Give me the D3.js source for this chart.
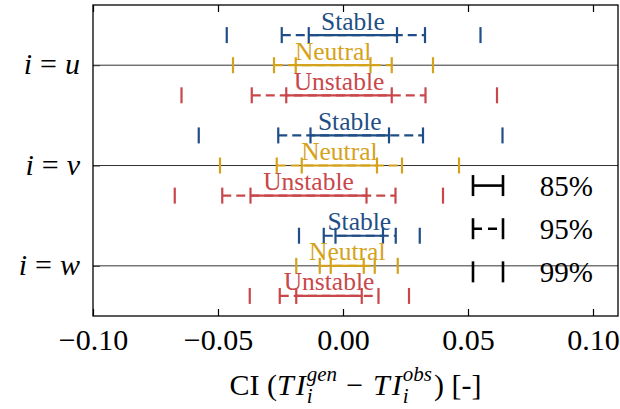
<!DOCTYPE html>
<html>
<head>
<meta charset="utf-8">
<script src="https://cdn.jsdelivr.net/npm/d3@7"></script>
<style>
  html, body { margin: 0; padding: 0; background: #fff; }
  svg { display: block; }
  text { font-family: "Liberation Serif", "Times New Roman", serif; fill: #000; }
</style>
</head>
<body>
<svg id="chart" width="620" height="409"></svg>
<script>
// ---- data ----
const components = ["u", "v", "w"];
const regimes = ["Stable", "Neutral", "Unstable"];
const regimeColors = ["#1f4e86", "#d5a21c", "#c9474a"];
// [component][regime] = [low, high]
const ci99 = [
  [[-0.0465, 0.0550], [-0.0440, 0.0360], [-0.0646, 0.0616]],
  [[-0.0577, 0.0638], [-0.0492, 0.0464], [-0.0673, 0.0400]],
  [[-0.0176, 0.0307], [-0.0187, 0.0219], [-0.0373, 0.0264]]
];
const ci95 = [
  [[-0.0245, 0.0328], [-0.0276, 0.0195], [-0.0365, 0.0330]],
  [[-0.0259, 0.0320], [-0.0265, 0.0236], [-0.0483, 0.0210]],
  [[-0.0077, 0.0211], [-0.0093, 0.0127], [-0.0253, 0.0142]]
];
const ci85 = [
  [[-0.0137, 0.0216], [-0.0189, 0.0110], [-0.0227, 0.0195]],
  [[-0.0130, 0.0184], [-0.0165, 0.0136], [-0.0370, 0.0094]],
  [[-0.0030, 0.0160], [-0.0049, 0.0083], [-0.0187, 0.0075]]
];
const xTicks = [-0.10, -0.05, 0.00, 0.05, 0.10];
const legendLabels = ["85%", "95%", "99%"];

// ---- layout ----
const svg = d3.select("#chart");
const plot = { left: 93, right: 618, top: 5, bottom: 316 };
const x = d3.scaleLinear().domain([-0.10, 0.11]).range([plot.left, plot.right]);
const y = d3.scaleLinear().domain([-0.6, 2.5]).range([plot.top, plot.bottom]);
const regimeOffset = [-0.3, 0, 0.3];
const capH = 8;
const lw = 2.2;

// category lines
svg.append("g").selectAll("line").data(components).join("line")
  .attr("x1", plot.left).attr("x2", plot.right)
  .attr("y1", (d, i) => y(i)).attr("y2", (d, i) => y(i))
  .attr("stroke", "#333").attr("stroke-width", 1);

// axes
const fmt = d3.format(".2f");
const xAxisB = d3.axisBottom(x).tickValues(xTicks).tickSize(-7).tickPadding(13).tickFormat(fmt);
const gB = svg.append("g").attr("transform", `translate(0,${plot.bottom})`).call(xAxisB);
gB.select(".domain").remove();
gB.selectAll("line").attr("stroke", "#000").attr("stroke-width", 1.2);
gB.selectAll("text").attr("font-size", 30).attr("dy", "0.71em")
  .style("font-family", '"Liberation Serif", serif');

const xAxisT = d3.axisTop(x).tickValues(xTicks).tickSize(-7).tickFormat("");
const gT = svg.append("g").attr("transform", `translate(0,${plot.top})`).call(xAxisT);
gT.select(".domain").remove();
gT.selectAll("line").attr("stroke", "#000").attr("stroke-width", 1.2);

const yAxis = d3.axisLeft(y).tickValues([0, 1, 2]).tickSize(-7).tickFormat("");
const gL = svg.append("g").attr("transform", `translate(${plot.left},0)`).call(yAxis);
gL.select(".domain").remove();
gL.selectAll("line").attr("stroke", "#333").attr("stroke-width", 1);

// y labels: i = u etc.
const yl = svg.append("g").selectAll("text").data(components).join("text")
  .attr("x", plot.left - 13).attr("y", (d, i) => y(i)).attr("dy", "0.3em")
  .attr("text-anchor", "end").attr("font-size", 30);
yl.append("tspan").attr("font-style", "italic").text("i");
yl.append("tspan").attr("dx", 8).text("=");
yl.append("tspan").attr("dx", 8).attr("font-style", "italic").text(d => d);

// ---- intervals ----
const rows = [];
components.forEach((c, ci) => regimes.forEach((r, ri) => {
  rows.push({ ci, ri, yv: ci + regimeOffset[ri], color: regimeColors[ri], label: r,
    c99: ci99[ci][ri], c95: ci95[ci][ri], c85: ci85[ci][ri] });
}));

const g = svg.append("g");
rows.forEach(d => {
  const yy = y(d.yv);
  const gr = g.append("g").attr("stroke", d.color).attr("stroke-width", lw).attr("fill", "none");
  // 95% dashed
  gr.append("line").attr("x1", x(d.c95[0])).attr("x2", x(d.c95[1]))
    .attr("y1", yy).attr("y2", yy).attr("stroke-dasharray", "9,5");
  // 85% solid
  gr.append("line").attr("x1", x(d.c85[0])).attr("x2", x(d.c85[1]))
    .attr("y1", yy).attr("y2", yy);
  // caps for all levels
  [d.c99, d.c95, d.c85].forEach(iv => iv.forEach(v => {
    gr.append("line").attr("x1", x(v)).attr("x2", x(v))
      .attr("y1", yy - capH).attr("y2", yy + capH);
  }));
  // label
  g.append("text").attr("x", x((d.c85[0] + d.c85[1]) / 2)).attr("y", yy - 5.5)
    .attr("text-anchor", "middle").attr("font-size", 25.5).style("fill", d.color)
    .text(d.label);
});

// ---- legend ----
const legX = [0.052, 0.064];
const legY = [1.2, 1.63, 2.06];
const legCap = 10.5;
const lg = svg.append("g");
legendLabels.forEach((lab, i) => {
  const yy = y(legY[i]);
  const gg = lg.append("g").attr("stroke", "#000").attr("stroke-width", 2.6);
  if (i === 0) {
    gg.append("line").attr("x1", x(legX[0])).attr("x2", x(legX[1])).attr("y1", yy).attr("y2", yy);
  } else if (i === 1) {
    gg.append("line").attr("x1", x(legX[0])).attr("x2", x(legX[1])).attr("y1", yy).attr("y2", yy)
      .attr("stroke-dasharray", "9,6");
  }
  legX.forEach(v => gg.append("line").attr("x1", x(v)).attr("x2", x(v))
    .attr("y1", yy - legCap).attr("y2", yy + legCap));
  lg.append("text").attr("x", x(0.0787)).attr("y", yy).attr("dy", "0.36em")
    .attr("font-size", 29).text(lab);
});

// frame
svg.append("rect").attr("x", plot.left).attr("y", plot.top)
  .attr("width", plot.right - plot.left).attr("height", plot.bottom - plot.top)
  .attr("fill", "none").attr("stroke", "#000").attr("stroke-width", 1.3);

// x label
const xl = svg.append("text").attr("x", (plot.left + plot.right) / 2).attr("y", 395)
  .attr("text-anchor", "middle").attr("font-size", 30);
xl.append("tspan").text("CI (");
xl.append("tspan").attr("font-style", "italic").text("T");
xl.append("tspan").attr("font-style", "italic").attr("dx", 2).text("I");
xl.append("tspan").attr("font-style", "italic").attr("font-size", 21).attr("dx", 1).attr("dy", 8).text("i");
xl.append("tspan").attr("font-style", "italic").attr("font-size", 21).attr("dx", -5.8).attr("dy", -22).text("gen");
xl.append("tspan").attr("dx", 9).attr("dy", 14).text("\u2212");
xl.append("tspan").attr("dx", 10).attr("font-style", "italic").text("T");
xl.append("tspan").attr("font-style", "italic").attr("dx", 2).text("I");
xl.append("tspan").attr("font-style", "italic").attr("font-size", 21).attr("dx", 1).attr("dy", 8).text("i");
xl.append("tspan").attr("font-style", "italic").attr("font-size", 21).attr("dx", -5.8).attr("dy", -22).text("obs");
xl.append("tspan").attr("dx", 2).attr("dy", 14).text(") [-]");
</script>
</body>
</html>
